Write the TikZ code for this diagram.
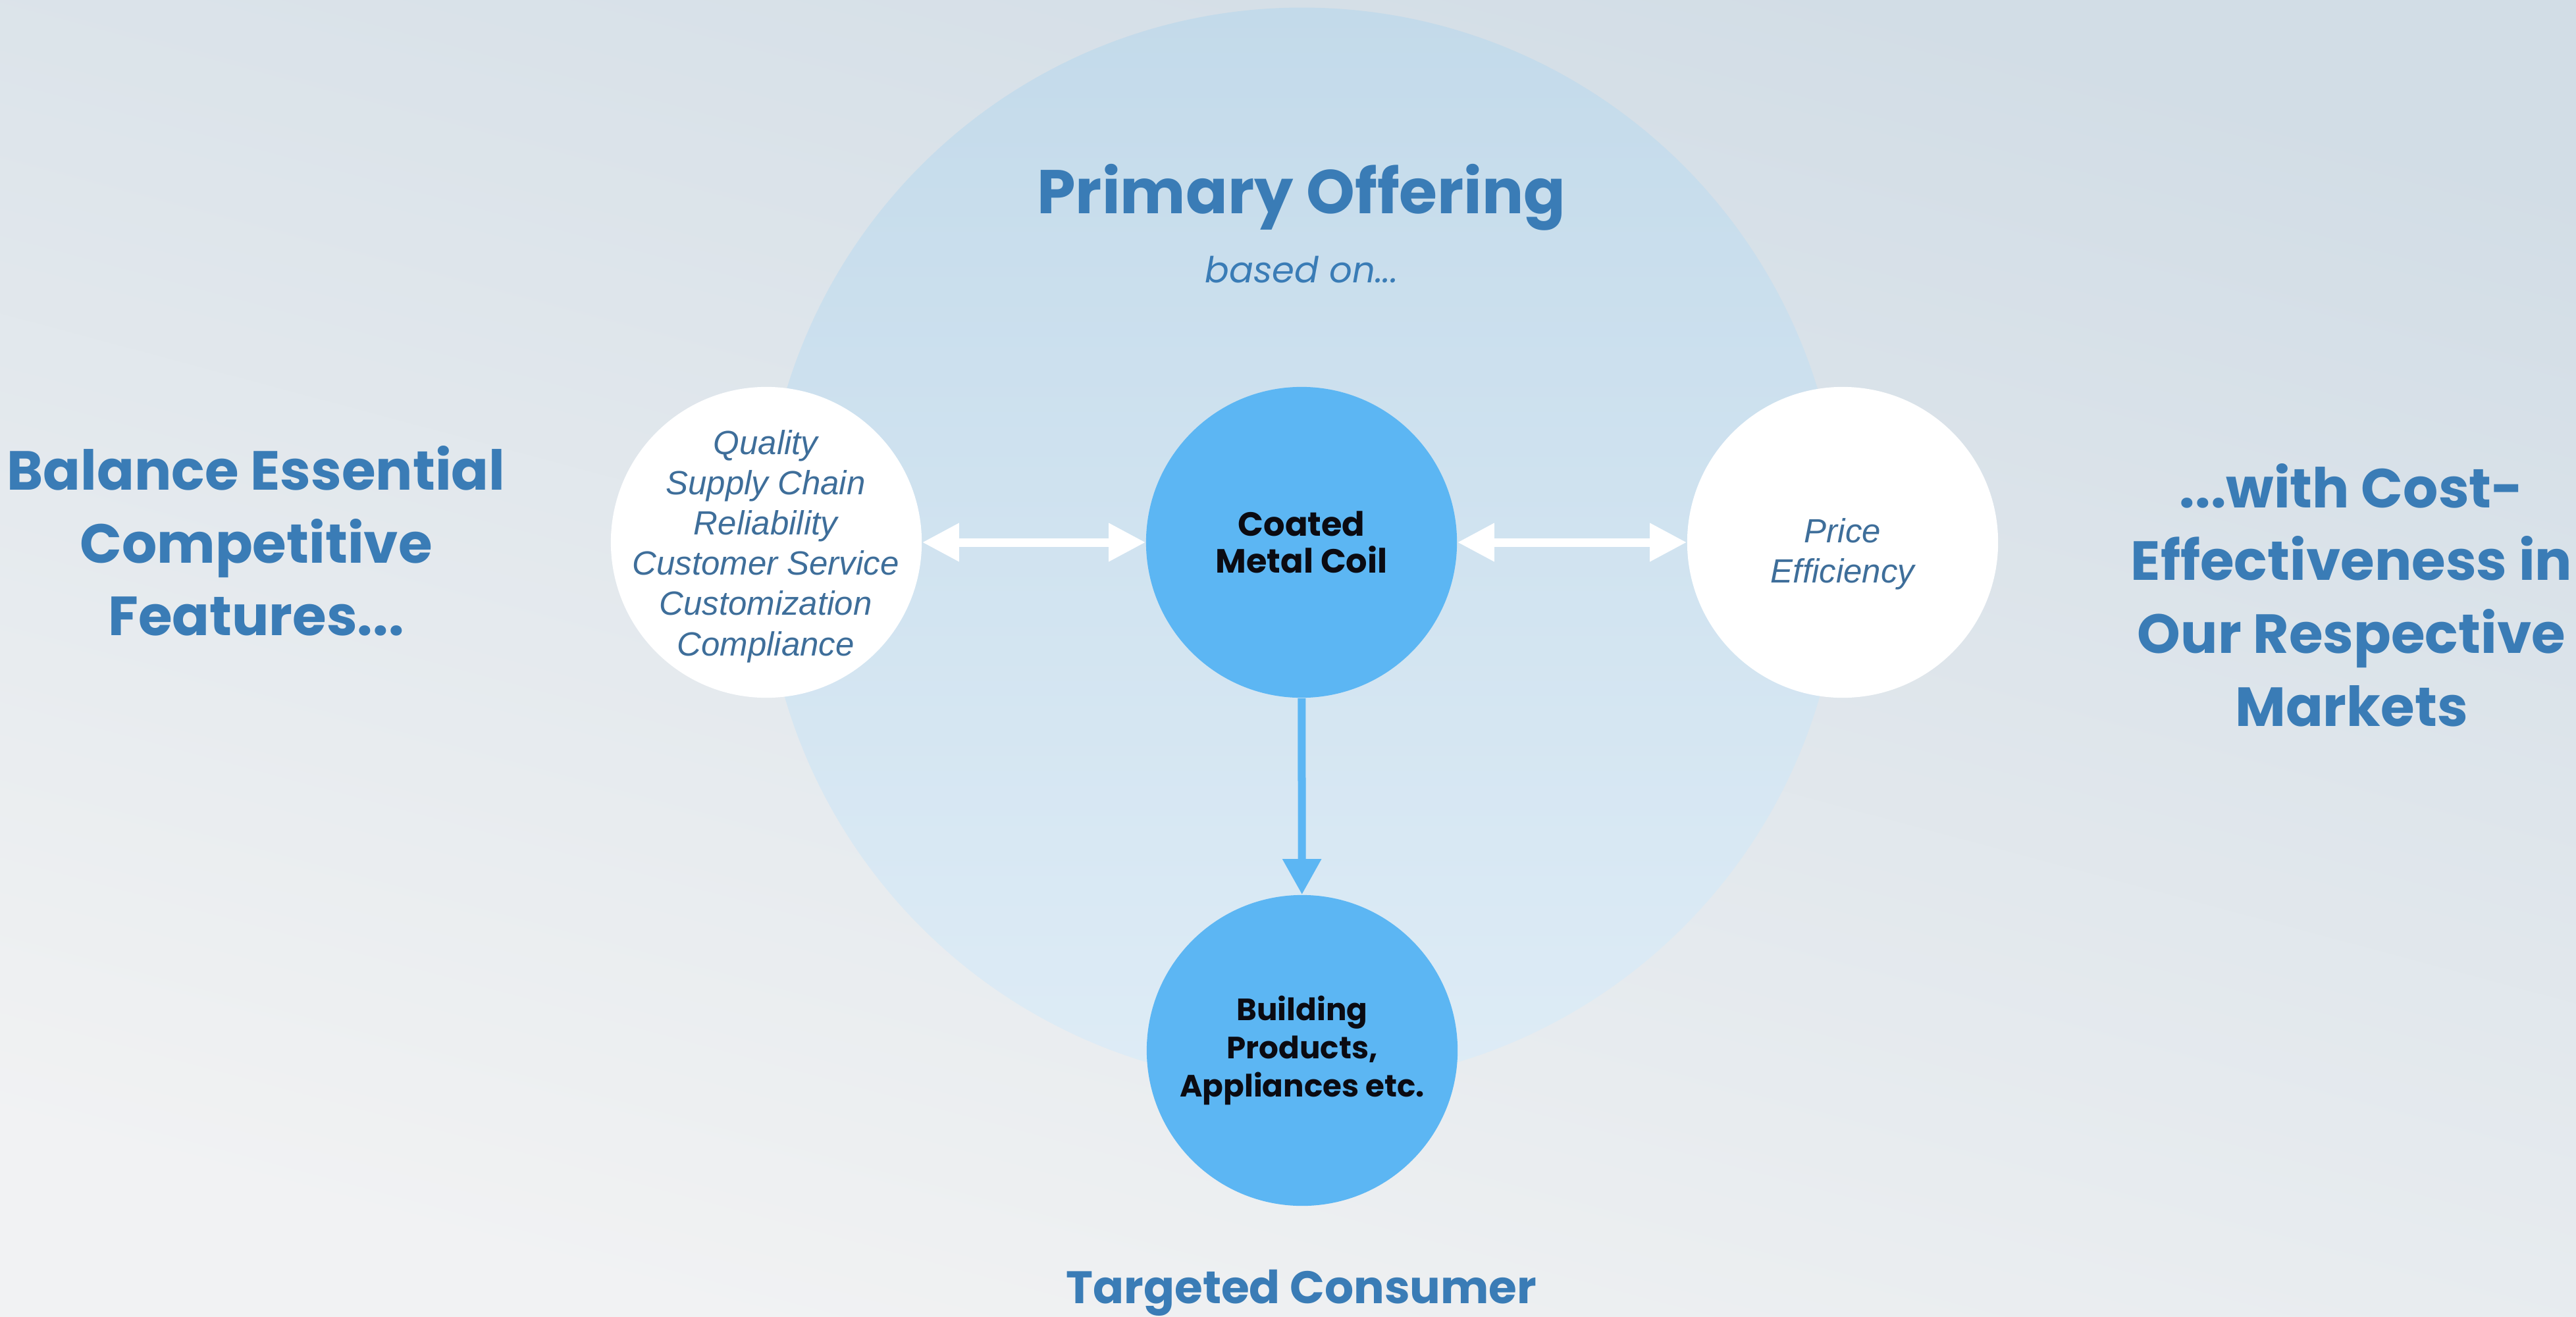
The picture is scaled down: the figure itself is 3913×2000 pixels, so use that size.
\documentclass[tikz,border=0pt]{standalone}
\usepackage{fontspec}
\usetikzlibrary{arrows.meta}
\newfontfamily\headfont{Poppins}
\newfontfamily\itfont{Liberation Sans}
\definecolor{headblue}{HTML}{3A7CB6}
\definecolor{itblue}{HTML}{3E6E9A}
\definecolor{coilblue}{HTML}{5CB6F3}
\definecolor{inkblack}{HTML}{0B0B12}
\definecolor{bgtop}{HTML}{D2DDE6}
\definecolor{bgbottom}{HTML}{F1F2F3}
\definecolor{ringtop}{HTML}{C3DAEA}
\definecolor{ringbottom}{HTML}{DEECF6}
\begin{document}
\begin{tikzpicture}[x=0.01cm,y=-0.01cm,
  heading/.style={font=\headfont\bfseries\fontsize{23.8}{31.5}\selectfont, text=headblue, align=center, inner sep=0pt},
  dot/.style={circle, minimum size=4.72cm, inner sep=0pt, align=center},
  bluecirc/.style={dot, fill=coilblue, font=\headfont\bfseries\fontsize{14.5}{16}\selectfont, text=inkblack},
  whitecirc/.style={dot, fill=white},
  ittext/.style={inner sep=0pt, align=center, font=\itfont\itshape\fontsize{14.5}{17.4}\selectfont, text=itblue},
  biarrow/.style={draw=white, line width=0.13cm, {Triangle[length=0.56cm,width=0.55cm]}-{Triangle[length=0.56cm,width=0.55cm]}},
  downarrow/.style={draw=coilblue, line width=0.12cm, -{Triangle[length=0.54cm,width=0.56cm]}}
]
\useasboundingbox (0,0) rectangle (3913,2000);
\shade[top color=bgtop, bottom color=bgbottom, shading angle=-15] (0,0) rectangle (3913,2000);
\shade[top color=ringtop, bottom color=ringbottom] (1978,830) circle [radius=8.18cm];

\node[heading, font=\headfont\bfseries\fontsize{26.7}{32}\selectfont] (title) at (1977,300) {Primary Offering};
\node[font=\headfont\itshape\fontsize{15.5}{18}\selectfont, text=headblue, inner sep=0pt] (based) at (1977,410) {based on...};

\node[whitecirc] (feat) at (1164,824) {};
\node[ittext] (feattext) at (1163,830) {Quality\\Supply Chain\\Reliability\\Customer Service\\Customization\\Compliance};
\node[bluecirc] (coil) at (1977,824) {Coated\\Metal Coil};
\node[whitecirc] (price) at (2799,824) {};
\node[ittext] (pricetext) at (2799,842) {Price\\Efficiency};
\node[bluecirc, font=\headfont\bfseries\fontsize{13.3}{16.5}\selectfont] (build) at (1978,1596) {Building\\Products,\\Appliances etc.};

\draw[biarrow] (feat) -- (coil);
\draw[biarrow] (coil) -- (price);
\draw[downarrow] (coil) -- (build);

\node[heading] (left) at (389,822) {Balance Essential\\Competitive\\Features...};
\node[heading] (right) at (3572,904) {...with Cost-\\Effectiveness in\\Our Respective\\Markets};
\node[heading, anchor=base, font=\headfont\bfseries\fontsize{19.7}{24}\selectfont] (target) at (1977,1980) {Targeted Consumer};
\end{tikzpicture}
\end{document}
